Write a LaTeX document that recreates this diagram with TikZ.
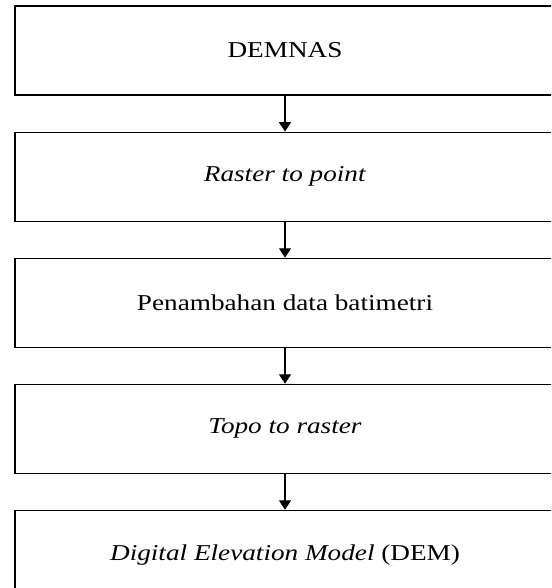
\documentclass[tikz,border=0pt]{standalone}
\usepackage{fontspec}
\setmainfont{Liberation Serif}[FakeStretch=1.2]
\usetikzlibrary{positioning,arrows.meta}

\tikzset{
  stepbox/.style={draw,line width=0.8pt,minimum width=405pt,minimum height=66.75pt,inner sep=0pt,font=\fontsize{17}{20}\selectfont},
  flowarrow/.style={draw,line width=0.8pt,-{Triangle[width=9pt,length=7pt]}}
}

\begin{document}
\begin{tikzpicture}[x=0.75pt,y=0.75pt,yscale=-1,xscale=1,node distance=27pt]
\useasboundingbox (0,0) rectangle (551,588);
\clip (0,0) rectangle (551,588);

%Shape: Rectangle
\node [stepbox] (demnas) at (285,50.5) {DEMNAS};
%Shape: Rectangle
\node [stepbox,below=of demnas] (rtp) {\textit{Raster to point}};
%Shape: Rectangle
\node [stepbox,below=of rtp] (bati) {Penambahan data batimetri};
%Shape: Rectangle
\node [stepbox,below=of bati] (ttr) {\textit{Topo to raster}};
%Shape: Rectangle
\node [stepbox,below=of ttr] (dem) {\textit{Digital Elevation Model} (DEM)};

%Arrows
\draw [flowarrow] (demnas) -- (rtp);
\draw [flowarrow] (rtp) -- (bati);
\draw [flowarrow] (bati) -- (ttr);
\draw [flowarrow] (ttr) -- (dem);

\end{tikzpicture}
\end{document}
